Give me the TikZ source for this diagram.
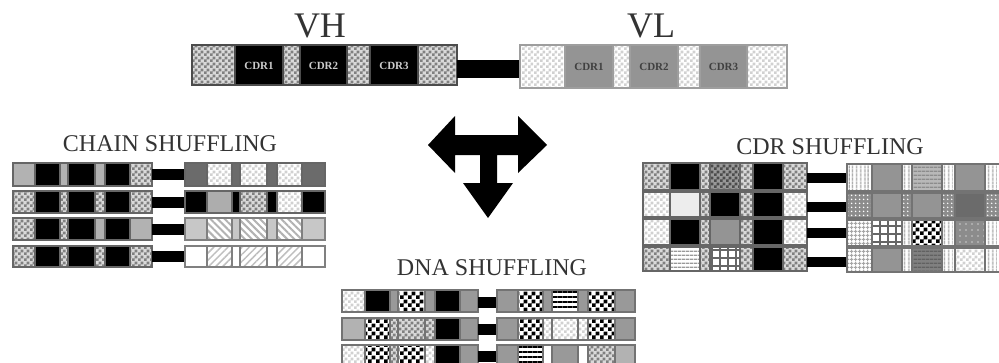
\documentclass[tikz,border=0pt]{standalone}
\usepackage{fontspec}
\setmainfont{Liberation Serif}
\usetikzlibrary{patterns.meta}
\pgfdeclarepatternformonly{chk}{\pgfpointorigin}{\pgfqpoint{6pt}{6pt}}{\pgfqpoint{6pt}{6pt}}{%
  \pgfpathrectangle{\pgfpointorigin}{\pgfqpoint{3pt}{3pt}}%
  \pgfpathrectangle{\pgfqpoint{3pt}{3pt}}{\pgfqpoint{3pt}{3pt}}\pgfusepath{fill}}
\pgfdeclarepatternformonly{bchk}{\pgfpointorigin}{\pgfqpoint{8pt}{8pt}}{\pgfqpoint{8pt}{8pt}}{%
  \pgfpathrectangle{\pgfpointorigin}{\pgfqpoint{4pt}{4pt}}%
  \pgfpathrectangle{\pgfqpoint{4pt}{4pt}}{\pgfqpoint{4pt}{4pt}}\pgfusepath{fill}}
\definecolor{c20}{gray}{0.2}
\definecolor{c25}{gray}{0.25}
\definecolor{c30}{gray}{0.3}
\definecolor{c38}{gray}{0.38}
\definecolor{c40}{gray}{0.4}
\definecolor{c42}{gray}{0.42}
\definecolor{c45}{gray}{0.45}
\definecolor{c50}{gray}{0.5}
\definecolor{c55}{gray}{0.55}
\definecolor{c58}{gray}{0.58}
\definecolor{c60}{gray}{0.6}
\definecolor{c62}{gray}{0.62}
\definecolor{c65}{gray}{0.65}
\definecolor{c68}{gray}{0.68}
\definecolor{c70}{gray}{0.7}
\definecolor{c72}{gray}{0.72}
\definecolor{c75}{gray}{0.75}
\definecolor{c78}{gray}{0.78}
\definecolor{c80}{gray}{0.8}
\definecolor{c82}{gray}{0.82}
\definecolor{c85}{gray}{0.85}
\definecolor{c93}{gray}{0.93}
\tikzset{
  ck/.style={preaction={fill=c85}, pattern=chk, pattern color=c50},
  ckl/.style={preaction={fill=white}, pattern=chk, pattern color=c82},
  ckd/.style={preaction={fill=c60}, pattern=chk, pattern color=c30},
  bw/.style={preaction={fill=white}, pattern=bchk, pattern color=black},
  blk/.style={fill=black},
  gl/.style={fill=c70}, gl2/.style={fill=c78}, gd/.style={fill=c42},
  gm/.style={fill=c68}, gg/.style={fill=c58}, g60/.style={fill=c60},
  wh/.style={fill=white}, w2/.style={fill=c93},
  nw/.style={preaction={fill=white}, pattern={Lines[angle=-45,distance=5pt,line width=2pt]}, pattern color=c70},
  ne/.style={preaction={fill=white}, pattern={Lines[angle=45,distance=5pt,line width=1.5pt]}, pattern color=c75},
  hl/.style={preaction={fill=white}, pattern={Lines[angle=0,distance=4pt,line width=1.5pt]}, pattern color=c60},
  grd/.style={preaction={fill=white}, pattern={Hatch[angle=0,distance=8pt,line width=1.5pt]}, pattern color=c40},
  vl/.style={preaction={fill=white}, pattern={Lines[angle=90,distance=4pt,line width=1.5pt]}, pattern color=c60},
  vgrid/.style={preaction={fill=white}, pattern={Hatch[angle=0,distance=4pt,line width=1.2pt]}, pattern color=c65},
  hs/.style={preaction={fill=c72}, pattern={Lines[angle=0,distance=4pt,line width=1.5pt]}, pattern color=c55},
  hsd/.style={preaction={fill=c50}, pattern={Lines[angle=0,distance=4pt,line width=1.5pt]}, pattern color=c38},
  dt/.style={preaction={fill=c55}, pattern={Dots[radius=1pt,distance=4pt]}, pattern color=white},
  gdots/.style={preaction={fill=c55}, pattern={Dots[radius=0.9pt,distance=6pt]}, pattern color=c80},
  hbw/.style={preaction={fill=white}, pattern={Lines[angle=0,distance=5pt,line width=2pt]}, pattern color=black},
  title/.style={font=\fontsize{24}{24}\selectfont, text=c20, inner sep=0pt},
  big/.style={font=\fontsize{36}{36}\selectfont, text=c20, inner sep=0pt},
  cdrw/.style={font=\bfseries\fontsize{11}{11}\selectfont, text=c80, inner sep=0pt},
  cdrd/.style={font=\bfseries\fontsize{11}{11}\selectfont, text=c25, inner sep=0pt},
  linker/.style={fill=black}
}
\newcommand\sg[3]{\path[#3,draw=\bc,line width=\lw] (#1,\ya) rectangle (#2,\yb);}
\newcommand\setx[8]{\def\xA{#1}\def\xB{#2}\def\xC{#3}\def\xD{#4}\def\xE{#5}\def\xF{#6}\def\xG{#7}\def\xH{#8}}
\newcommand\rw[9]{\def\ya{#1}\def\yb{#2}%
  \sg{\xA}{\xB}{#3}\sg{\xB}{\xC}{#4}\sg{\xC}{\xD}{#5}\sg{\xD}{\xE}{#6}%
  \sg{\xE}{\xF}{#7}\sg{\xF}{\xG}{#8}\sg{\xG}{\xH}{#9}}
\newcommand\lk[4]{\path[linker] (#1,#3) rectangle (#2,#4);}
\begin{document}
\begin{tikzpicture}[x=1pt,y=-1pt]
\useasboundingbox (0,0) rectangle (999,362);
\fill[white] (0,0) rectangle (999,362);
% top
\node[big] (vh) at (320,25.5) {VH};
\node[big] (vl) at (651,25.5) {VL};
\def\bc{c30}\def\lw{1.5}
\setx{192}{235}{283}{300}{347}{370}{418}{457}
\rw{45}{85}{ck}{blk}{ck}{blk}{ck}{blk}{ck}
\node[cdrw] (h1) at (259,65.5) {CDR1};
\node[cdrw] (h2) at (323.5,65.5) {CDR2};
\node[cdrw] (h3) at (394,65.5) {CDR3};
\lk{457}{520}{60}{78}
\def\bc{c62}
\setx{520}{565}{613}{630}{678}{700}{747}{787}
\rw{45}{88}{ckl}{gg}{ckl}{gg}{ckl}{gg}{ckl}
\node[cdrd] (l1) at (589,66.5) {CDR1};
\node[cdrd] (l2) at (654,66.5) {CDR2};
\node[cdrd] (l3) at (723.5,66.5) {CDR3};
% arrow
\fill[black] (428,145) -- (455,116) -- (455,135) -- (518,135) -- (518,116) -- (547,145)
  -- (518,173) -- (518,155) -- (497,155) -- (497,183) -- (513,183) -- (488,218)
  -- (463,183) -- (480,183) -- (480,155) -- (455,155) -- (455,173) -- cycle;
% chain shuffling
\node[title] (chain) at (170,144) {CHAIN SHUFFLING};
\def\bc{c40}\def\lw{2}
\setx{13}{35}{60}{68}{95}{105}{130}{152}
\rw{163}{186}{gl}{blk}{gl}{blk}{gl}{blk}{ck}
\rw{191}{213}{ck}{blk}{ck}{blk}{ck}{blk}{ck}
\rw{218}{240}{ck}{blk}{ck}{blk}{gl}{blk}{gl}
\rw{246}{267}{ck}{blk}{ck}{blk}{ck}{blk}{ck}
\lk{152}{185}{169}{180}
\lk{152}{185}{196.5}{207.5}
\lk{152}{185}{223.5}{234.5}
\lk{152}{185}{251}{262}
\setx{185}{207}{232}{240}{267}{277}{302}{325}
\rw{163}{186}{gd}{ckl}{gd}{ckl}{gd}{ckl}{gd}
\rw{191}{213}{blk}{gm}{blk}{ck}{blk}{ckl}{blk}
\def\bc{c50}
\rw{218}{240}{gl2}{nw}{gl2}{nw}{gl2}{nw}{gl2}
\rw{246}{267}{wh}{ne}{wh}{ne}{wh}{ne}{wh}
% CDR shuffling
\node[title] (cdr) at (830,146.5) {CDR SHUFFLING};
\def\bc{c40}
\setx{643}{670}{700}{710}{740}{753}{783}{807}
\rw{163}{190}{ck}{blk}{ck}{ckd}{ck}{blk}{ck}
\rw{192}{217}{ckl}{w2}{ck}{blk}{ck}{blk}{ckl}
\rw{219}{245}{ckl}{blk}{ck}{gg}{ck}{blk}{ckl}
\rw{247}{271}{ck}{hl}{ck}{grd}{ck}{blk}{ck}
\lk{807}{847}{173}{183}
\lk{807}{847}{202}{212}
\lk{807}{847}{228}{238}
\lk{807}{847}{257}{267}
\def\bc{c45}
\setx{847}{872}{902}{912}{942}{955}{985}{1004}
\rw{164}{191}{vl}{gg}{vl}{hs}{vl}{gg}{vl}
\rw{193}{218}{dt}{gg}{dt}{gg}{dt}{gd}{dt}
\rw{220}{246}{vgrid}{grd}{vl}{bw}{vl}{gdots}{vl}
\rw{248}{272}{vgrid}{gg}{vl}{hsd}{vl}{ckl}{vl}
% DNA shuffling
\node[title] (dna) at (492,268) {DNA SHUFFLING};
\def\bc{c45}
\setx{342}{365}{390}{398}{425}{435}{460}{478}
\rw{290}{312}{ckl}{blk}{g60}{bw}{g60}{blk}{g60}
\rw{318}{340}{gl}{bw}{ck}{ck}{ck}{blk}{g60}
\rw{345}{367}{ckl}{bw}{ck}{bw}{ckl}{blk}{g60}
\lk{478}{497}{297}{308}
\lk{478}{497}{324}{335}
\lk{478}{497}{351}{362}
\setx{497}{518}{543}{552}{578}{588}{615}{635}
\rw{290}{312}{g60}{bw}{g60}{hbw}{g60}{bw}{g60}
\rw{318}{340}{g60}{bw}{ckl}{ckl}{ckl}{bw}{g60}
\rw{345}{367}{g60}{hbw}{wh}{g60}{wh}{ck}{gl}
\end{tikzpicture}
\end{document}
